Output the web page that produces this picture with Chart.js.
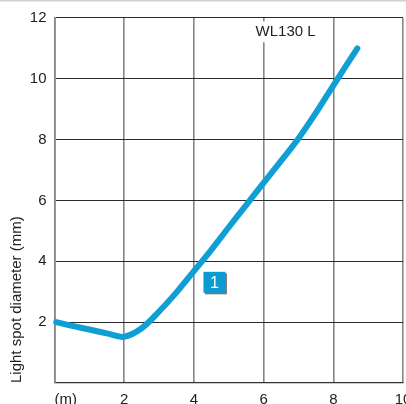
<!DOCTYPE html>
<html>
<head>
<meta charset="utf-8">
<script src="https://cdn.jsdelivr.net/npm/chart.js@4"></script>
<style>
html,body{margin:0;padding:0;background:#fff;}
#wrap{position:relative;width:406px;height:404px;}
</style>
</head>
<body>
<div id="wrap"><canvas id="c" width="406" height="404"></canvas></div>
<script>
// Data
const distances = [0.05, 0.5, 1.0, 1.5, 2.0, 2.5, 3.0, 3.5, 4.0, 4.5, 5.0, 5.5, 6.0, 6.5, 7.0, 7.5, 8.0, 8.69];
const diameters = [2.0, 1.88, 1.76, 1.63, 1.52, 1.8, 2.35, 2.98, 3.68, 4.38, 5.12, 5.85, 6.58, 7.3, 8.04, 8.88, 9.78, 11.0];
const xTicks = [0, 2, 4, 6, 8, 10];
const yTicks = [0, 2, 4, 6, 8, 10, 12];
const xUnitLabel = '(m)';
const yTitle = 'Light spot diameter (mm)';
const seriesName = 'WL130 L';
const markerLabel = '1';
const markerPos = [4.59, 3.31];
const namePos = [6.63, 11.53];

const FONT = '"Liberation Sans", Arial, sans-serif';
const TXT = '#222';
const BLUE = '#109fd4';

const points = distances.map((d, i) => ({x: d, y: diameters[i]}));

const extras = {
  id: 'extras',
  afterDraw(chart) {
    const ctx = chart.ctx;
    const xs = chart.scales.x, ys = chart.scales.y;
    const ca = chart.chartArea;
    ctx.save();
    ctx.fillStyle = '#d0d0d0';
    ctx.fillRect(0, 0, 406, 1.5);
    ctx.fillStyle = TXT;
    ctx.font = '15px ' + FONT;
    ctx.textAlign = 'left';
    ctx.textBaseline = 'alphabetic';
    ctx.fillText(xUnitLabel, xs.getPixelForValue(0), 403.5);
    const nx = xs.getPixelForValue(namePos[0]);
    const ny = ys.getPixelForValue(namePos[1]);
    const w = ctx.measureText(seriesName).width;
    ctx.fillStyle = '#fff';
    ctx.fillRect(nx - w / 2 - 2, ny - 11, w + 4, 21);
    ctx.fillStyle = TXT;
    ctx.textAlign = 'center';
    ctx.textBaseline = 'middle';
    ctx.fillText(seriesName, nx, ny);
    const mx = xs.getPixelForValue(markerPos[0]);
    const my = ys.getPixelForValue(markerPos[1]);
    ctx.fillStyle = '#7a7a7a';
    ctx.fillRect(mx - 11 + 1.5, my - 10.5 + 1.5, 22, 21);
    ctx.fillStyle = '#0b9bd0';
    ctx.fillRect(mx - 11, my - 10.5, 22, 21);
    ctx.fillStyle = '#fff';
    ctx.font = '16px ' + FONT;
    ctx.fillText(markerLabel, mx, my + 1);
    ctx.translate(21, ca.bottom);
    ctx.rotate(-Math.PI / 2);
    ctx.fillStyle = TXT;
    ctx.font = '15px ' + FONT;
    ctx.textAlign = 'left';
    ctx.textBaseline = 'alphabetic';
    ctx.fillText(yTitle, 0, 0);
    ctx.restore();
  }
};

new Chart(document.getElementById('c'), {
  type: 'scatter',
  data: {
    datasets: [{
      label: seriesName,
      data: points,
      showLine: true,
      borderColor: BLUE,
      borderWidth: 6,
      borderCapStyle: 'round',
      borderJoinStyle: 'round',
      pointRadius: 0,
      tension: 0.35,
      clip: false
    }]
  },
  options: {
    responsive: false,
    animation: false,
    devicePixelRatio: 1,
    layout: {padding: {top: 18, right: 3, left: 0, bottom: 0}},
    plugins: {legend: {display: false}, tooltip: {enabled: false}},
    scales: {
      x: {
        type: 'linear', min: 0, max: 10,
        afterBuildTicks: s => { s.ticks = xTicks.map(v => ({value: v})); },
        afterFit: s => { s.height = 21; s.paddingRight = 0; s.paddingLeft = 0; },
        grid: {color: '#858585', lineWidth: 1.6, drawTicks: false},
        border: {color: '#333', width: 1.2},
        ticks: {
          padding: 8, color: TXT, font: {family: FONT, size: 15},
          maxRotation: 0, autoSkip: false,
          callback: v => v === 0 ? '' : String(v)
        }
      },
      y: {
        type: 'linear', min: 0, max: 12,
        afterBuildTicks: s => { s.ticks = yTicks.map(v => ({value: v})); },
        afterFit: s => { s.width = 54.5; s.paddingTop = 0; s.paddingBottom = 0; },
        grid: {color: '#2a2a2a', lineWidth: 1.1, drawTicks: false},
        border: {color: '#858585', width: 1.6},
        ticks: {
          padding: 8, color: TXT, font: {family: FONT, size: 15},
          callback: v => v === 0 ? '' : String(v)
        }
      }
    }
  },
  plugins: [extras]
});
</script>
</body>
</html>
